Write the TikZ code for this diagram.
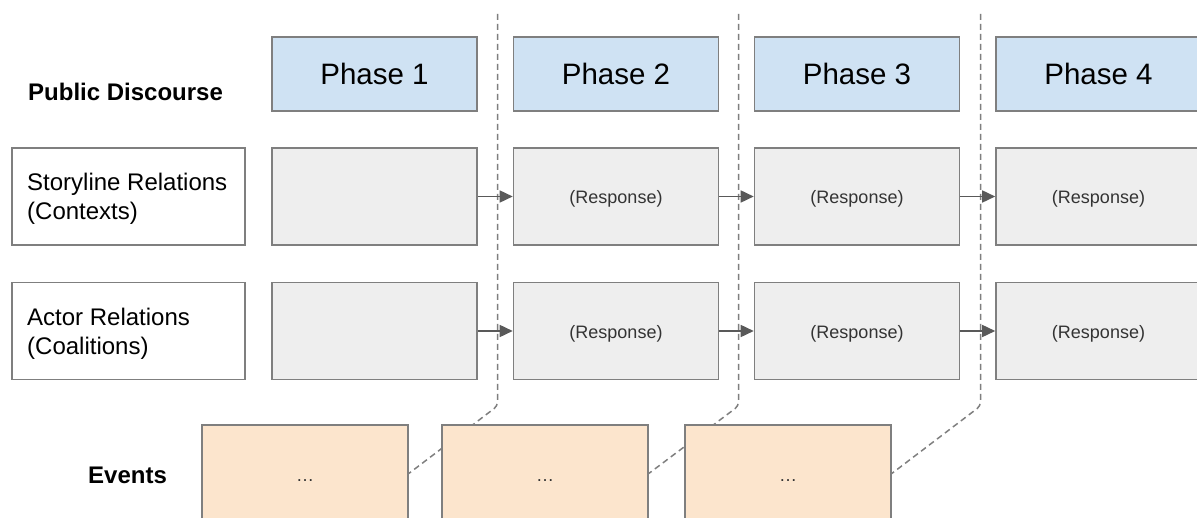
\documentclass[tikz,border=0pt]{standalone}
\usepackage{fontspec}
\setmainfont{Liberation Sans}
\usetikzlibrary{arrows.meta,backgrounds}
\definecolor{phasefill}{HTML}{CFE2F3}
\definecolor{grayfill}{HTML}{EEEEEE}
\definecolor{eventfill}{HTML}{FCE5CD}
\definecolor{edge}{HTML}{7F7F7F}
\definecolor{arrowc}{HTML}{595959}
\definecolor{txt}{HTML}{333333}
\newcommand\resptext{\raisebox{-7.5pt}[0pt][0pt]{(Response)}}
\newcommand\evdots{\raisebox{-7.5pt}[0pt][0pt]{\dots}}
\tikzset{
  box/.style={draw=edge, line width=1.6pt, inner sep=0pt},
  phasebox/.style={box, fill=phasefill, minimum width=205pt, minimum height=74pt, font=\fontsize{29.5}{32}\selectfont},
  graybox/.style={box, fill=grayfill, minimum width=205pt, minimum height=97pt, text=txt, font=\fontsize{18}{21}\selectfont},
  labelbox/.style={box, fill=white, minimum width=233pt, minimum height=97pt},
  labeltext/.style={anchor=west, align=left, font=\fontsize{24}{29}\selectfont, inner sep=0pt},
  eventbox/.style={box, fill=eventfill, minimum width=206pt, minimum height=97pt, text=txt, font=\fontsize{18}{21}\selectfont},
  heading/.style={anchor=west, font=\fontsize{24}{28}\selectfont\bfseries, inner sep=0pt},
  flow/.style={draw=arrowc, line width=1.6pt, -{Triangle[length=13pt,width=12pt]}},
  divider/.style={draw=edge, line width=1.5pt, dash pattern=on 6pt off 4pt, rounded corners=4pt}
}
\begin{document}
\begin{tikzpicture}[x=1pt,y=-1pt]
\useasboundingbox (0,0) rectangle (1197,518);
\clip (0,0) rectangle (1197,518);

% headings
\node[heading] (pd) at (28,92) {Public Discourse};
\node[heading] (ev) at (88,475) {Events};

% phase boxes
\node[phasebox] (p1) at (374.5,74) {Phase 1};
\node[phasebox] (p2) at (616,74) {Phase 2};
\node[phasebox] (p3) at (857,74) {Phase 3};
\node[phasebox] (p4) at (1098.5,74) {Phase 4};

% label boxes
\node[labelbox] (l1) at (128.5,196.5) {};
\node[labeltext] (l1t) at (27,199) {Storyline Relations\\(Contexts)};
\node[labelbox] (l2) at (128.5,331) {};
\node[labeltext] (l2t) at (27,333.5) {Actor Relations\\(Coalitions)};

% storyline row
\node[graybox] (s1) at (374.5,196.5) {};
\node[graybox] (s2) at (616,196.5) {\resptext};
\node[graybox] (s3) at (857,196.5) {\resptext};
\node[graybox] (s4) at (1098.5,196.5) {\resptext};

% actor row
\node[graybox] (a1) at (374.5,331) {};
\node[graybox] (a2) at (616,331) {\resptext};
\node[graybox] (a3) at (857,331) {\resptext};
\node[graybox] (a4) at (1098.5,331) {\resptext};

% events
\node[eventbox] (e1) at (305,473.5) {\evdots};
\node[eventbox] (e2) at (545,473.5) {\evdots};
\node[eventbox] (e3) at (788,473.5) {\evdots};

% dividers
\coordinate (d1t) at (497.5,14);
\coordinate (d1b) at (497.5,406);
\coordinate (d2t) at (738.5,14);
\coordinate (d2b) at (738.5,406);
\coordinate (d3t) at (980.5,14);
\coordinate (d3b) at (980.5,406);
\begin{pgfonlayer}{background}
\fill[white] (0,0) rectangle (1197,518);
\draw[divider] (d1t) -- (d1b) -- (e1.east);
\draw[divider] (d2t) -- (d2b) -- (e2.east);
\draw[divider] (d3t) -- (d3b) -- (e3.east);
\end{pgfonlayer}

% arrows
\draw[flow] (s1.east) -- (s2.west);
\draw[flow] (s2.east) -- (s3.west);
\draw[flow] (s3.east) -- (s4.west);
\draw[flow] (a1.east) -- (a2.west);
\draw[flow] (a2.east) -- (a3.west);
\draw[flow] (a3.east) -- (a4.west);
\end{tikzpicture}
\end{document}
